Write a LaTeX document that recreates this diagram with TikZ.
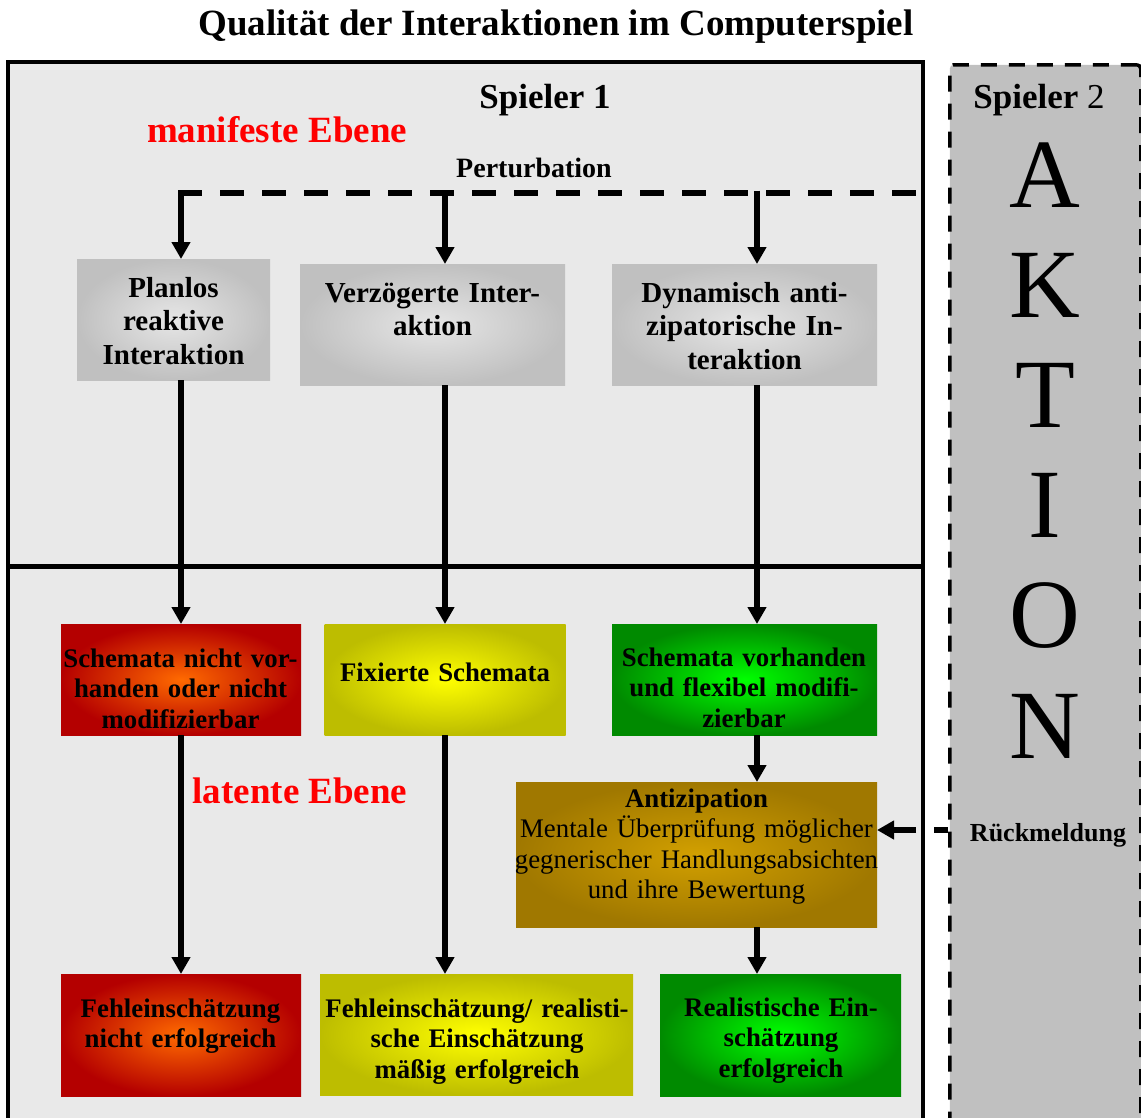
\documentclass[tikz,border=0pt]{standalone}
\usepackage{fontspec}
\setmainfont{Liberation Serif}
\usetikzlibrary{arrows.meta}

\definecolor{panel}{HTML}{E9E9E9}
\definecolor{sidegray}{HTML}{C0C0C0}
\definecolor{grayin}{HTML}{E6E6E6}
\definecolor{grayout}{HTML}{C0C0C0}
\definecolor{redin}{HTML}{FF6A00}
\definecolor{redout}{HTML}{B40000}
\definecolor{yelin}{HTML}{FFFF00}
\definecolor{yelout}{HTML}{BDBD00}
\definecolor{grnin}{HTML}{00FF00}
\definecolor{grnout}{HTML}{008A00}
\definecolor{brnin}{HTML}{D2A000}
\definecolor{brnout}{HTML}{A07800}
\definecolor{levelred}{HTML}{FF0000}

\begin{document}
\begin{tikzpicture}[x=1pt,y=-1pt,
  tile/.style={draw=none, inner sep=0pt, outer sep=0pt},
  graytile/.style={tile, inner color=grayin, outer color=grayout},
  redtile/.style={tile, inner color=redin, outer color=redout},
  yeltile/.style={tile, inner color=yelin, outer color=yelout},
  grntile/.style={tile, inner color=grnin, outer color=grnout},
  brntile/.style={tile, inner color=brnin, outer color=brnout},
  txt/.style={inner sep=0pt, anchor=base, align=center, text width=420pt},
  toptxt/.style={txt, font=\fontsize{29}{33.5}\selectfont\bfseries},
  lowtxt/.style={txt, font=\fontsize{26.8}{30.8}\selectfont\bfseries},
  antitxt/.style={txt, font=\fontsize{26.8}{30.5}\selectfont},
  flow/.style={line width=5.5pt, -{Triangle[width=18pt,length=17pt]}},
  perturb/.style={line width=5.5pt, dash pattern=on 24pt off 18pt},
  bigletter/.style={inner sep=0pt, anchor=base, font=\fontsize{98}{98}\selectfont},
]
\useasboundingbox (0,0) rectangle (1141,1117);
\fill[white] (0,0) rectangle (1141,1117);

% title
\node[inner sep=0pt, anchor=base, font=\fontsize{37}{40}\selectfont\bfseries] (title) at (556,35)
  {Qualität der Interaktionen im Computerspiel};

% panel of player 1
\draw[fill=panel, line width=3.5pt] (8,62) rectangle (923,1140);
\draw[line width=5pt] (8,566.5) -- (921,566.5);

% column of player 2
\node[draw, fill=sidegray, line width=3.5pt, dash pattern=on 16pt off 12pt,
      rounded corners=4pt, minimum width=191pt, minimum height=1080pt,
      inner sep=0pt, anchor=north west] (s2) at (948,63) {};

\node[inner sep=0pt, anchor=base, font=\fontsize{35}{40}\selectfont] (s2name) at (1039,108)
  {\textbf{Spieler} 2};
\foreach \L [count=\i] in {A,K,T,I,O,N}
  \node[bigletter] (k\i) at (1045,{207+110.2*(\i-1)}) {\L};
\node[inner sep=0pt, anchor=base, font=\fontsize{26}{30}\selectfont\bfseries] (fbtext) at (1048,841)
  {Rückmeldung};

% headings inside the panel
\node[inner sep=0pt, anchor=base, font=\fontsize{35}{40}\selectfont\bfseries] (s1name) at (545,108)
  {Spieler 1};
\node[inner sep=0pt, anchor=base, text=levelred, font=\fontsize{37}{40}\selectfont\bfseries] (manif) at (277,142)
  {manifeste Ebene};
\node[inner sep=0pt, anchor=base, font=\fontsize{28}{32}\selectfont\bfseries] (pert) at (534,177)
  {Perturbation};
\node[inner sep=0pt, anchor=base, text=levelred, font=\fontsize{37}{40}\selectfont\bfseries] (latent) at (300,803)
  {latente Ebene};

% tiles
\node[graytile, minimum width=193pt, minimum height=121pt] (b1) at (173.5,319.5) {};
\node[graytile, minimum width=265pt, minimum height=121pt] (b2) at (432.5,324.5) {};
\node[graytile, minimum width=265pt, minimum height=121pt] (b3) at (744.5,324.5) {};

\node[redtile, minimum width=240pt, minimum height=111pt] (m1) at (181,679.5) {};
\node[yeltile, minimum width=241pt, minimum height=111pt] (m2) at (445,679.5) {};
\node[grntile, minimum width=265pt, minimum height=111pt] (m3) at (744.5,679.5) {};

\node[brntile, minimum width=361pt, minimum height=145pt] (anti) at (696.5,854.5) {};

\node[redtile, minimum width=240pt, minimum height=122pt] (r1) at (181,1035) {};
\node[yeltile, minimum width=313pt, minimum height=121pt] (r2) at (476.5,1034.5) {};
\node[grntile, minimum width=241pt, minimum height=122pt] (r3) at (780.5,1035) {};

% tile texts
\node[toptxt] (t1) at (173.5,297) {Planlos\\reaktive\\Interaktion};
\node[toptxt] (t2) at (432.5,302) {Verzögerte Inter-\\aktion};
\node[toptxt] (t3) at (744.5,302) {Dynamisch anti-\\zipatorische In-\\teraktion};

\node[lowtxt] (u1) at (180.5,667) {Schemata nicht vor-\\handen oder nicht\\modifizierbar};
\node[lowtxt] (u2) at (445,681) {Fixierte Schemata};
\node[lowtxt] (u3) at (744,666) {Schemata vorhanden\\und flexibel modifi-\\zierbar};

\node[antitxt] (at) at (696.5,807) {\textbf{Antizipation}\\Mentale Überprüfung möglicher\\gegnerischer Handlungsabsichten\\und ihre Bewertung};

\node[lowtxt] (v1) at (180.5,1017) {Fehleinschätzung\\nicht erfolgreich};
\node[lowtxt] (v2) at (477,1017) {Fehleinschätzung/ realisti-\\sche Einschätzung\\mäßig erfolgreich};
\node[lowtxt] (v3) at (781,1016) {Realistische Ein-\\schätzung\\erfolgreich};

% perturbation line and columns of arrows
\coordinate (pl) at (178.25,193);
\coordinate (pr) at (918,193);
\coordinate (c1) at (181,190.5);
\coordinate (c2) at (445,190.5);
\coordinate (c3) at (757,190.5);
\draw[perturb] (pl) -- (pr);

\draw[flow] (c1) -- (c1 |- b1.north);
\draw[flow] (c2) -- (c2 |- b2.north);
\draw[flow] (c3) -- (c3 |- b3.north);

\draw[flow] (c1 |- b1.south) -- (c1 |- m1.north);
\draw[flow] (c2 |- b2.south) -- (c2 |- m2.north);
\draw[flow] (c3 |- b3.south) -- (c3 |- m3.north);

\draw[flow] (c1 |- m1.south) -- (c1 |- r1.north);
\draw[flow] (c2 |- m2.south) -- (c2 |- r2.north);
\draw[flow] (c3 |- m3.south) -- (c3 |- anti.north);
\draw[flow] (c3 |- anti.south) -- (c3 |- r3.north);

% feedback from player 2
\coordinate (fb) at (s2.west |- 0,830);
\draw[flow, dash pattern=on 14pt off 18pt on 200pt off 0pt] (fb) -- (anti.east |- fb);

\end{tikzpicture}
\end{document}
